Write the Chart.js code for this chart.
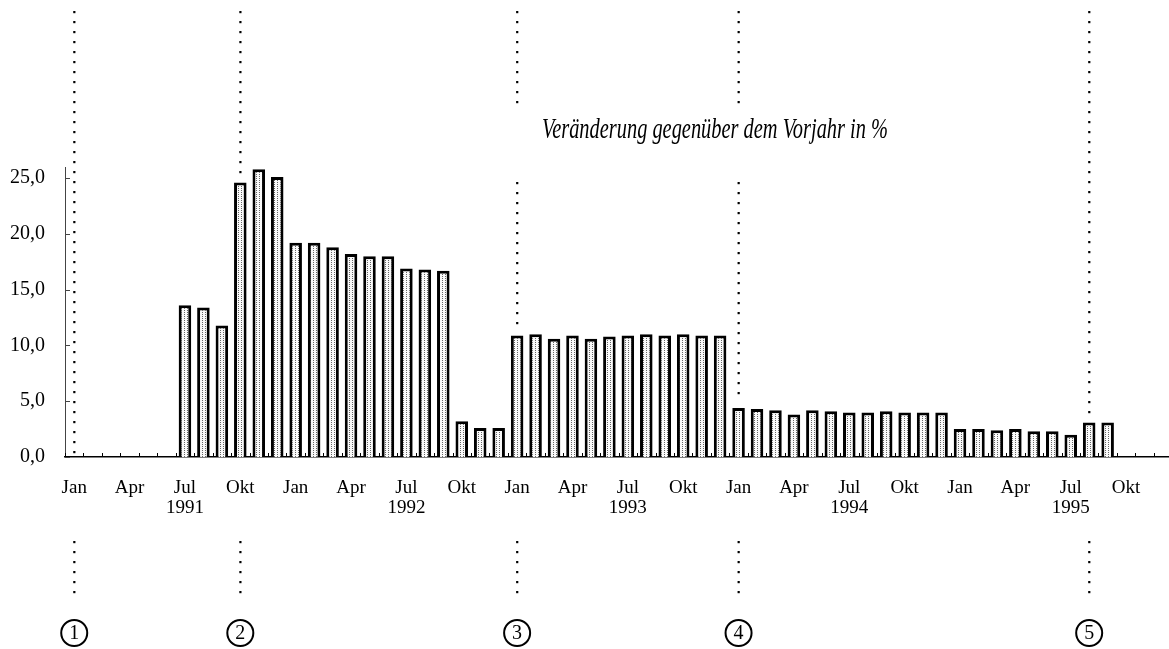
<!doctype html>
<html lang="de">
<head>
<meta charset="utf-8">
<title>Veränderung gegenüber dem Vorjahr</title>
<script src="https://cdn.jsdelivr.net/npm/chart.js@4.4.1/dist/chart.umd.min.js"></script>
<style>
  html, body { margin: 0; padding: 0; background: #fff; overflow: hidden; }
  #wrap { width: 1176px; height: 649px; position: relative; }
</style>
</head>
<body>
<div id="wrap"><canvas id="myChart"></canvas></div>
<script>
// data (monthly, Jan 1991 - Dez 1995)
const years = [1991, 1992, 1993, 1994, 1995];
const months = ['Jan', 'Feb', 'Mär', 'Apr', 'Mai', 'Jun', 'Jul', 'Aug', 'Sep', 'Okt', 'Nov', 'Dez'];
const shownMonths = ['Jan', 'Apr', 'Jul', 'Okt'];
const values1991 = [null, null, null, null, null, null, 13.6, 13.4, 11.8, 24.6, 25.8, 25.1];
const values1992 = [19.2, 19.2, 18.8, 18.2, 18.0, 18.0, 16.9, 16.8, 16.7, 3.2, 2.6, 2.6];
const values1993 = [10.9, 11.0, 10.6, 10.9, 10.6, 10.8, 10.9, 11.0, 10.9, 11.0, 10.9, 10.9];
const values1994 = [4.4, 4.3, 4.2, 3.8, 4.2, 4.1, 4.0, 4.0, 4.1, 4.0, 4.0, 4.0];
const values1995 = [2.5, 2.5, 2.4, 2.5, 2.3, 2.3, 2.0, 3.1, 3.1, null, null, null];
const yTicks = [0, 5, 10, 15, 20, 25];
const titleText = 'Veränderung gegenüber dem Vorjahr in %';
// dotted marker lines: number, month, year
const markerNums = ['1', '2', '3', '4', '5'];
const markerMonths = ['Jan', 'Okt', 'Jan', 'Jan', 'Aug'];
const markerYears = [1991, 1991, 1993, 1994, 1995];

const labels = [];
years.forEach(y => months.forEach(m => labels.push(m + ' ' + y)));
const values = [].concat(values1991, values1992, values1993, values1994, values1995);

const serif = "'Liberation Serif', 'DejaVu Serif', serif";

// stippled bar fill
let makePattern = () => {
    const c = document.createElement('canvas');
    c.width = 3; c.height = 2;
    const g = c.getContext('2d');
    g.fillStyle = '#fafafa';
    g.fillRect(0, 0, 3, 2);
    g.fillStyle = '#666';
    g.fillRect(1, 0, 1, 1);
    return g.createPattern(c, 'repeat');
};

const extras = {
    id: 'extras',
    afterDraw(chart) {
        const ctx = chart.ctx;
        const xs = chart.scales.x;
        const ys = chart.scales.y;
        const axisY = chart.chartArea.bottom;
        const left = chart.chartArea.left;
        const step = xs.getPixelForValue(1) - xs.getPixelForValue(0);
        ctx.save();

        // small ticks between months
        ctx.strokeStyle = '#000';
        ctx.lineWidth = 1;
        for (let i = 0; i <= labels.length; i++) {
            const x = Math.round(xs.getPixelForValue(0) - step / 2 + i * step) + 0.5;
            ctx.beginPath();
            ctx.moveTo(x, axisY);
            ctx.lineTo(x, axisY - 4);
            ctx.stroke();
        }
        // small ticks on the value axis
        ctx.strokeStyle = '#444';
        yTicks.forEach(v => {
            const y = Math.round(ys.getPixelForValue(v)) + 0.5;
            ctx.beginPath();
            ctx.moveTo(left, y);
            ctx.lineTo(left + 5, y);
            ctx.stroke();
        });

        // title
        ctx.fillStyle = '#000';
        ctx.strokeStyle = '#000';
        ctx.textAlign = 'center';
        ctx.textBaseline = 'middle';
        const tx = 715, ty = 130, tw = 346;
        ctx.font = 'italic 29px ' + serif;
        const natural = ctx.measureText(titleText).width;
        ctx.save();
        ctx.translate(tx, ty);
        ctx.scale(tw / natural, 1);
        ctx.fillText(titleText, 0, 0);
        ctx.restore();

        // dotted lines + circled numbers
        let dots = (x, y0, y1) => {
            for (let y = y0; y <= y1; y += 10) {
                ctx.fillRect(x - 1, y - 1, 2.2, 2.2);
            }
        };
        markerNums.forEach((n, k) => {
            const idx = labels.indexOf(markerMonths[k] + ' ' + markerYears[k]);
            const x = xs.getPixelForValue(idx);
            const v = values[idx];
            const yEnd = v == null ? axisY - 2 : ys.getPixelForValue(v) - 8;
            if (x > tx - tw / 2 - 30 && x < tx + tw / 2 + 30) {
                dots(x, 12, ty - 28);
                dots(x, ty + 53, yEnd);
            } else {
                dots(x, 12, yEnd);
            }
            dots(x, 542, 598);
            ctx.lineWidth = 2;
            ctx.beginPath();
            ctx.arc(x, 633, 13, 0, Math.PI * 2);
            ctx.stroke();
            ctx.font = '20px ' + serif;
            ctx.fillText(n, x, 634);
        });
        ctx.restore();
    }
};

let showChart = () => {
    const ctx = document.getElementById('myChart');
    new Chart(ctx, {
        type: 'bar',
        data: {
            labels: labels,
            datasets: [{
                data: values,
                backgroundColor: makePattern(),
                borderColor: '#000',
                borderWidth: 3,
                barPercentage: 0.68,
                categoryPercentage: 1.0
            }]
        },
        options: {
            responsive: true,
            maintainAspectRatio: false,
            animation: false,
            layout: { padding: { top: 167, right: 0, bottom: 0, left: 0 } },
            plugins: {
                legend: { display: false },
                tooltip: { enabled: false }
            },
            scales: {
                x: {
                    offset: true,
                    grid: { display: false },
                    border: { display: true, color: '#000', width: 1.5 },
                    ticks: {
                        autoSkip: false,
                        maxRotation: 0,
                        padding: 13,
                        color: '#000',
                        font: { family: serif, size: 19, lineHeight: 1.05 },
                        callback: (val, i) => {
                            const m = months[i % 12];
                            if (!shownMonths.includes(m)) return '';
                            if (m === 'Jul') return [m, String(years[Math.floor(i / 12)])];
                            return m;
                        }
                    },
                    afterFit: (s) => { s.height = 192; }
                },
                y: {
                    min: 0,
                    max: 26,
                    grid: { display: false },
                    border: { display: true, color: '#444', width: 1 },
                    afterBuildTicks: (s) => { s.ticks = yTicks.map(v => ({ value: v })); },
                    ticks: {
                        padding: 12,
                        color: '#000',
                        font: { family: serif, size: 20 },
                        callback: (v) => v.toFixed(1).replace('.', ',')
                    },
                    afterFit: (s) => { s.width = 65; }
                }
            }
        },
        plugins: [extras]
    });
};

showChart();
</script>
</body>
</html>
